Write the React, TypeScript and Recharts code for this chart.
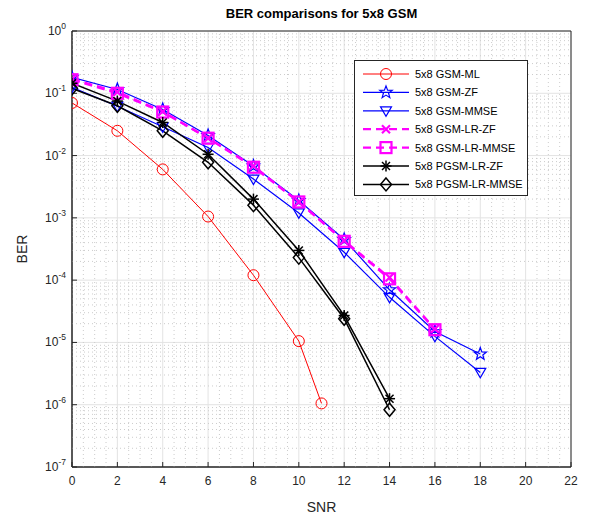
import React from 'react';
import { LineChart, Line, XAxis, YAxis, CartesianGrid, ReferenceLine, ReferenceArea, Legend } from 'recharts';

// ---- data ----
const snrTicks = [0, 2, 4, 6, 8, 10, 12, 14, 16, 18, 20, 22];
const berTicks = [1e-7, 1e-6, 1e-5, 1e-4, 1e-3, 1e-2, 1e-1, 1];

const snrML = [0, 2, 4, 6, 8, 10, 11];
const berML = [0.07, 0.025, 0.006, 0.00105, 1.2e-4, 1.05e-5, 1.05e-6];

const snrGSM = [0, 2, 4, 6, 8, 10, 12, 14, 16, 18];
const berZF = [0.18, 0.115, 0.055, 0.021, 0.0068, 0.0019, 4.5e-4, 7e-5, 1.5e-5, 6.5e-6];
const berMMSE = [0.125, 0.062, 0.029, 0.0135, 0.0042, 0.0012, 2.8e-4, 5.3e-5, 1.25e-5, 3.3e-6];

const snrLR = [0, 2, 4, 6, 8, 10, 12, 14, 16];
const berLRZF = [0.17, 0.105, 0.051, 0.019, 0.0068, 0.0018, 4.3e-4, 1.1e-4, 1.65e-5];
const berLRMMSE = [0.165, 0.1, 0.05, 0.019, 0.0065, 0.0018, 4.2e-4, 1.05e-4, 1.6e-5];

const snrPGSM = [0, 2, 4, 6, 8, 10, 12, 14];
const berPGZF = [0.145, 0.075, 0.034, 0.0105, 0.002, 3e-4, 2.7e-5, 1.25e-6];
const berPGMMSE = [0.12, 0.063, 0.025, 0.0078, 0.0016, 2.3e-4, 2.4e-5, 8.3e-7];

const seriesNames = [
  '5x8 GSM-ML',
  '5x8 GSM-ZF',
  '5x8 GSM-MMSE',
  '5x8 GSM-LR-ZF',
  '5x8 GSM-LR-MMSE',
  '5x8 PGSM-LR-ZF',
  '5x8 PGSM-LR-MMSE',
];

const chartTitle = 'BER comparisons for 5x8 GSM';

const toData = (xs: number[], ys: number[]) => xs.map((snr, i) => ({ snr, ber: ys[i] }));

const minorY: number[] = [];
for (let e = -7; e < 0; e++) {
  for (let k = 2; k <= 9; k++) minorY.push(k * Math.pow(10, e));
}
const minorX: number[] = [];
for (let v = 0.5; v < 22; v += 0.5) {
  if (Math.abs(v / 2 - Math.round(v / 2)) > 1e-9) minorX.push(v);
}

type Kind = 'circle' | 'star' | 'tri' | 'x' | 'square' | 'ast' | 'diamond';

const series = [
  { name: seriesNames[0], data: toData(snrML, berML), color: '#ff0000', kind: 'circle' as Kind, sw: 1, dash: undefined },
  { name: seriesNames[1], data: toData(snrGSM, berZF), color: '#0000ff', kind: 'star' as Kind, sw: 1.2, dash: undefined },
  { name: seriesNames[2], data: toData(snrGSM, berMMSE), color: '#0000ff', kind: 'tri' as Kind, sw: 1.2, dash: undefined },
  { name: seriesNames[3], data: toData(snrLR, berLRZF), color: '#ff00ff', kind: 'x' as Kind, sw: 2.2, dash: '8 5' },
  { name: seriesNames[4], data: toData(snrLR, berLRMMSE), color: '#ff00ff', kind: 'square' as Kind, sw: 2.2, dash: '8 5' },
  { name: seriesNames[5], data: toData(snrPGSM, berPGZF), color: '#000000', kind: 'ast' as Kind, sw: 1.5, dash: undefined },
  { name: seriesNames[6], data: toData(snrPGSM, berPGMMSE), color: '#000000', kind: 'diamond' as Kind, sw: 1.5, dash: undefined },
];

const FONT = '"Liberation Sans", Arial, Helvetica, sans-serif';
const AXIS = '#262626';

function Marker({ kind, cx, cy, color, sw }: { kind: Kind; cx: number; cy: number; color: string; sw: number }) {
  const common = { fill: 'none', stroke: color, strokeWidth: sw };
  switch (kind) {
    case 'circle':
      return <circle cx={cx} cy={cy} r={5.5} {...common} />;
    case 'star': {
      const pts: string[] = [];
      for (let i = 0; i < 10; i++) {
        const r = i % 2 === 0 ? 6.5 : 2.7;
        const a = -Math.PI / 2 + (i * Math.PI) / 5;
        pts.push(`${cx + r * Math.cos(a)},${cy + r * Math.sin(a)}`);
      }
      return <polygon points={pts.join(' ')} {...common} strokeWidth={1.2} />;
    }
    case 'tri':
      return <polygon points={`${cx - 5.5},${cy - 4} ${cx + 5.5},${cy - 4} ${cx},${cy + 5.5}`} {...common} />;
    case 'x':
      return (
        <g {...common}>
          <line x1={cx - 4} y1={cy - 4} x2={cx + 4} y2={cy + 4} />
          <line x1={cx - 4} y1={cy + 4} x2={cx + 4} y2={cy - 4} />
        </g>
      );
    case 'square':
      return <rect x={cx - 5.5} y={cy - 5.5} width={11} height={11} {...common} />;
    case 'ast':
      return (
        <g {...common}>
          <line x1={cx - 5.5} y1={cy} x2={cx + 5.5} y2={cy} />
          <line x1={cx} y1={cy - 5.5} x2={cx} y2={cy + 5.5} />
          <line x1={cx - 4} y1={cy - 4} x2={cx + 4} y2={cy + 4} />
          <line x1={cx - 4} y1={cy + 4} x2={cx + 4} y2={cy - 4} />
        </g>
      );
    case 'diamond':
      return <polygon points={`${cx},${cy - 6.5} ${cx + 5.5},${cy} ${cx},${cy + 6.5} ${cx - 5.5},${cy}`} {...common} />;
  }
  return null;
}

const YTick = (props: any) => {
  const { x, y, payload } = props;
  const e = Math.round(Math.log10(payload.value));
  return (
    <text x={x} y={y} dy={4} textAnchor="end" fill={AXIS} fontSize={12} fontFamily={FONT}>
      <tspan>10</tspan>
      <tspan dy={-6} fontSize={8.5}>{e === 0 ? '0' : `-${Math.abs(e)}`}</tspan>
    </text>
  );
};

const LegendBox = () => {
  const w = 172;
  const h = 134;
  return (
    <div style={{ border: `1px solid ${AXIS}`, background: '#fff', width: w, height: h }}>
      <svg width={w} height={h} style={{ display: 'block' }}>
        {series.map((s, i) => {
          const y = 13 + i * 18.4;
          return (
            <g key={s.name}>
              <line x1={8} x2={54} y1={y} y2={y} stroke={s.color} strokeWidth={s.sw} strokeDasharray={s.dash} />
              <Marker kind={s.kind} cx={31} cy={y} color={s.color} sw={s.sw} />
              <text x={60} y={y + 4} fontSize={11} fontFamily={FONT} fill="#000">
                {s.name}
              </text>
            </g>
          );
        })}
      </svg>
    </div>
  );
};

export default function App() {
  return (
    <div style={{ position: 'absolute', left: 0, top: 0, width: 601, height: 517, background: '#fff' }}>
      <div
        style={{
          position: 'absolute',
          left: 72,
          top: 6,
          width: 499,
          textAlign: 'center',
          fontFamily: FONT,
          fontWeight: 'bold',
          fontSize: 13,
          lineHeight: '16px',
          color: '#000',
          zIndex: 2,
        }}
      >
        {chartTitle}
      </div>
      <LineChart width={601} height={517} margin={{ top: 31, right: 30, bottom: 0, left: 0 }}>
        <CartesianGrid stroke="#e3e3e3" strokeWidth={1} />
        {minorY.map((v) => (
          <ReferenceLine key={`my${v}`} y={v} stroke="#cccccc" strokeWidth={1} strokeDasharray="1 3" />
        ))}
        {minorX.map((v) => (
          <ReferenceLine key={`mx${v}`} x={v} stroke="#cccccc" strokeWidth={1} strokeDasharray="1 3" />
        ))}
        <ReferenceArea x1={0} x2={22} y1={1e-7} y2={1} fill="none" fillOpacity={0} stroke={AXIS} strokeWidth={1} ifOverflow="visible" />
        <XAxis
          dataKey="snr"
          type="number"
          domain={[0, 22]}
          ticks={snrTicks}
          allowDataOverflow
          height={50}
          stroke={AXIS}
          tickSize={-5}
          tickMargin={14}
          tick={{ fill: AXIS, fontSize: 12, fontFamily: FONT }}
          label={{ value: 'SNR', position: 'insideBottom', offset: 5, fill: AXIS, fontSize: 14, fontFamily: FONT }}
        />
        <XAxis
          xAxisId="top"
          orientation="top"
          type="number"
          domain={[0, 22]}
          ticks={snrTicks}
          allowDataOverflow
          height={0}
          stroke={AXIS}
          tickSize={-5}
          tick={false}
        />
        <YAxis
          scale="log"
          type="number"
          domain={[1e-7, 1]}
          ticks={berTicks}
          allowDataOverflow
          width={72}
          stroke={AXIS}
          tickSize={-5}
          tickMargin={11}
          tick={<YTick />}
          label={{ value: 'BER', angle: -90, position: 'insideLeft', offset: 22, fill: AXIS, fontSize: 14, fontFamily: FONT, style: { textAnchor: 'middle' } }}
        />
        <YAxis
          yAxisId="right"
          orientation="right"
          scale="log"
          type="number"
          domain={[1e-7, 1]}
          ticks={berTicks}
          allowDataOverflow
          width={0}
          stroke={AXIS}
          tickSize={-5}
          tick={false}
        />
        {series.map((s) => (
          <Line
            key={s.name}
            data={s.data}
            dataKey="ber"
            name={s.name}
            stroke={s.color}
            strokeWidth={s.sw}
            strokeDasharray={s.dash}
            isAnimationActive={false}
            legendType="none"
            dot={(p: any) => <Marker key={`${s.name}-${p.index}`} kind={s.kind} cx={p.cx} cy={p.cy} color={s.color} sw={s.sw} />}
            activeDot={false}
          />
        ))}
        <Legend
          layout="vertical"
          align="center"
          verticalAlign="middle"
          content={<LegendBox />}
          wrapperStyle={{ left: 354, top: 60, width: 'auto', height: 'auto' }}
        />
      </LineChart>
    </div>
  );
}
